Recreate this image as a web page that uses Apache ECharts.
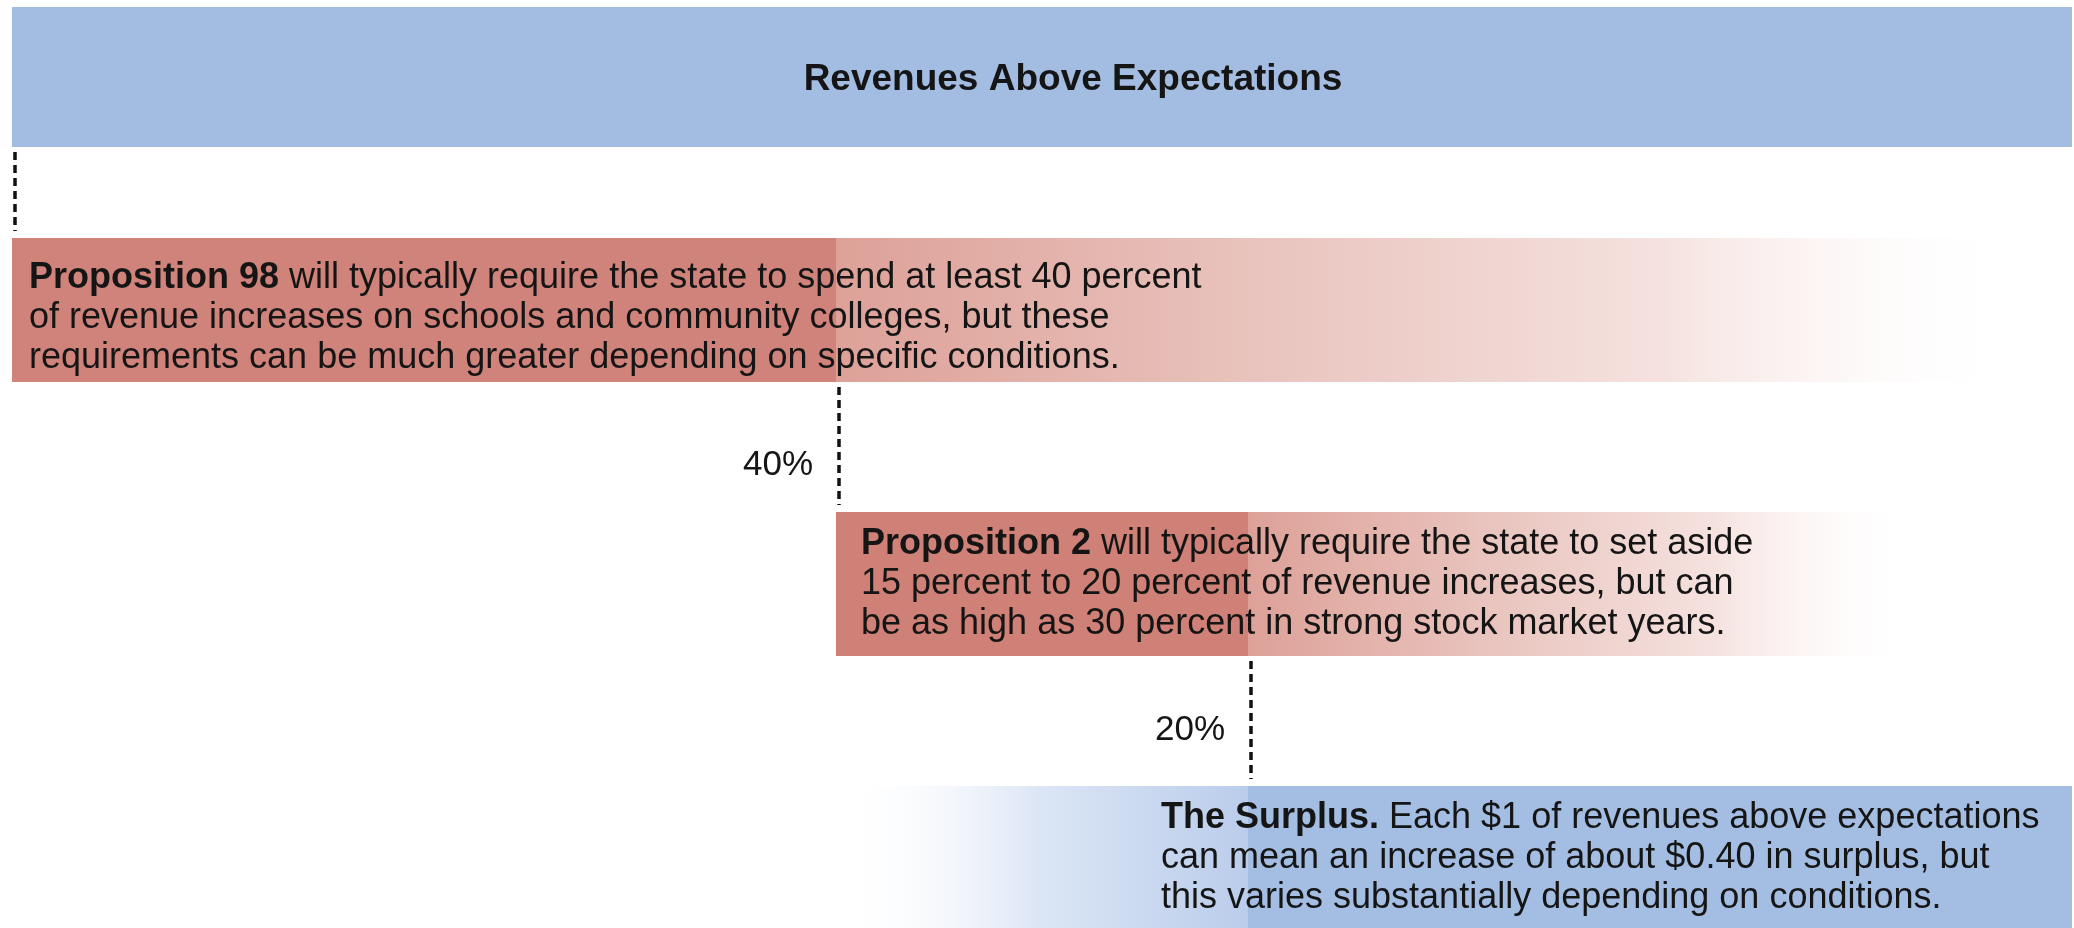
<!DOCTYPE html>
<html>
<head>
<meta charset="utf-8">
<title>Revenues Above Expectations</title>
<script src="https://cdn.jsdelivr.net/npm/echarts@6.0.0/dist/echarts.min.js"></script>
<style>
  html, body { margin: 0; padding: 0; background: #fff; }
  #main { width: 2074px; height: 928px; }
</style>
</head>
<body>
<div id="main"></div>
<script>
// revenue split flow: banner on top, then three shares
var topCategory = ['Revenues Above Expectations'];
var topShare = [100];

var categories = ['Proposition 98', 'Proposition 2', 'The Surplus'];
var starts = [0, 40, 60];   // where each share begins, % of revenues
var shares = [40, 20, 40];  // % of each $1 above expectations
var boldText = ['Proposition 98', 'Proposition 2', 'The Surplus.'];
var bodyText = [
  [' will typically require the state to spend at least 40 percent',
   'of revenue increases on schools and community colleges, but these',
   'requirements can be much greater depending on specific conditions.'],
  [' will typically require the state to set aside',
   '15 percent to 20 percent of revenue increases, but can',
   'be as high as 30 percent in strong stock market years.'],
  [' Each $1 of revenues above expectations',
   'can mean an increase of about $0.40 in surplus, but',
   'this varies substantially depending on conditions.']
];

var FONT = '"Liberation Sans", Arial, Helvetica, sans-serif';
var INK = '#151515';
var BANNER_TOP = 7, BANNER_H = 140;
var BOX_H = 144;
var redFade = ['#dda198', '#e9c3bd', '#f5e2df'];
var rowStyle = [
  { color: '#d0837a', fade: redFade, fadeTo: 97.5, textDx: 17, textDy: 8 },
  { color: '#cf8077', fade: redFade, fadeTo: 92.5, textDx: 25, textDy: 0, pctDy: 19 },
  { color: '#a4bde3', fade: ['#bacdeb', '#dbe5f5'], fadeFrom: 40, textDx: -87, textDy: 0, pctDy: 10 }
];

function renderRow(params, api) {
  var i = params.dataIndex;
  var st = rowStyle[i];
  var a = api.coord([api.value(0), i]);
  var b = api.coord([api.value(0) + api.value(1), i]);
  var top = a[1] - BOX_H / 2;
  var kids = [];

  if (st.fadeTo != null) {
    var e = api.coord([st.fadeTo, i]);
    kids.push({
      type: 'rect',
      shape: { x: b[0], y: top, width: e[0] - b[0], height: BOX_H },
      style: { fill: new echarts.graphic.LinearGradient(0, 0, 1, 0, [
        { offset: 0, color: st.fade[0] },
        { offset: 0.35, color: st.fade[1] },
        { offset: 0.7, color: st.fade[2] },
        { offset: 1, color: 'rgba(255,255,255,0)' }
      ]) }
    });
  } else {
    var f = api.coord([st.fadeFrom, i]);
    kids.push({
      type: 'rect',
      shape: { x: f[0], y: top, width: a[0] - f[0], height: BOX_H },
      style: { fill: new echarts.graphic.LinearGradient(0, 0, 1, 0, [
        { offset: 0, color: 'rgba(255,255,255,0)' },
        { offset: 0.5, color: st.fade[1] },
        { offset: 1, color: st.fade[0] }
      ]) }
    });
  }
  kids.push({
    type: 'rect',
    shape: { x: a[0], y: top, width: b[0] - a[0], height: BOX_H },
    style: { fill: st.color }
  });

  kids.push({
    type: 'text',
    style: {
      x: a[0] + st.textDx,
      y: a[1] + st.textDy,
      text: '{b|' + boldText[i] + '}' + bodyText[i].join('\n'),
      fontFamily: FONT,
      fontSize: 36,
      lineHeight: 40,
      fill: INK,
      verticalAlign: 'middle',
      rich: {
        b: { fontFamily: FONT, fontSize: 36, fontWeight: 'bold', lineHeight: 40, fill: INK }
      }
    }
  });

  // dotted connector from the box above
  var x = a[0] + 3;
  var y1 = top - 7;
  var y0 = i === 0 ? BANNER_TOP + BANNER_H + 5 : api.coord([0, i - 1])[1] + BOX_H / 2 + 5;
  kids.push({
    type: 'line',
    shape: { x1: x, y1: y0, x2: x, y2: y1 },
    style: { stroke: '#111', lineWidth: 3.5, lineDash: [8, 5] }
  });
  if (i > 0) {
    kids.push({
      type: 'text',
      style: {
        x: x - 26,
        y: (y0 + y1) / 2 + st.pctDy,
        text: shares[i - 1] + '%',
        fontFamily: FONT,
        fontSize: 35,
        fill: INK,
        align: 'right',
        verticalAlign: 'middle'
      }
    });
  }
  return { type: 'group', children: kids };
}

var myChart = echarts.init(document.getElementById('main'));
myChart.setOption({
  animation: false,
  backgroundColor: '#fff',
  grid: [
    { left: 12, right: 2, top: BANNER_TOP, height: BANNER_H },
    { left: 12, right: 2, top: 310, height: 548 }
  ],
  xAxis: [
    { gridIndex: 0, type: 'value', min: 0, max: 100, show: false },
    { gridIndex: 1, type: 'value', min: 0, max: 100, show: false }
  ],
  yAxis: [
    { gridIndex: 0, type: 'category', data: topCategory, show: false },
    { gridIndex: 1, type: 'category', data: categories, inverse: true, boundaryGap: false, show: false }
  ],
  series: [{
    type: 'bar',
    xAxisIndex: 0,
    yAxisIndex: 0,
    barWidth: '100%',
    silent: true,
    data: topShare,
    itemStyle: { color: '#a3bce2' },
    label: {
      show: true,
      position: 'inside',
      offset: [31, 3],
      formatter: '{b}',
      fontFamily: FONT,
      fontSize: 37,
      fontWeight: 'bold',
      color: INK
    }
  }, {
    type: 'custom',
    xAxisIndex: 1,
    yAxisIndex: 1,
    clip: false,
    silent: true,
    renderItem: renderRow,
    encode: { x: [0, 1], y: 2 },
    data: starts.map(function (s, i) { return [s, shares[i], i]; })
  }]
});

window.addEventListener('resize', function () {
  myChart.resize();
});
</script>
</body>
</html>
